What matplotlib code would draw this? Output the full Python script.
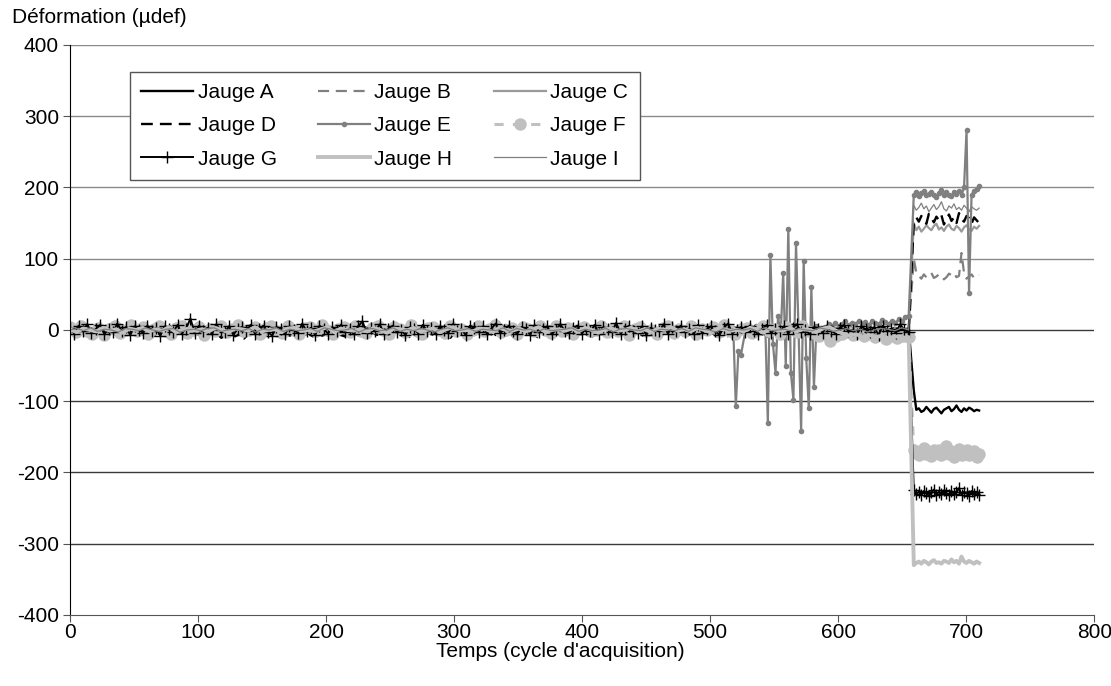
import numpy as np
import matplotlib; matplotlib.use('Agg')
import matplotlib.pyplot as plt

plt.rcParams.update({'font.family': ['Liberation Sans', 'DejaVu Sans'], 'font.size': 15,
                     'axes.unicode_minus': False})

# --- baseline (cycles 0..655) ---
A_base = [2,-4,1,5,-3,0,4,-5,2,-1,3,-4,5,0,-2,4,-5,1,3,-3,0,5,-2,1,-4,3,0,-5,4,-1,2,-3,5,-2,0,3,-4,1,4,-5,2,-1,0,5,-3,1,-4,3,-1,2,-5,4,0,-2,3,-4,1,5,-3,0,2,-5,4,-1,1,-3,5,0,-4,2,3,-2,-5,4,1,-1,3,-4,0,5,-2,2,-3,1,4,-5,0,3,-1,-4,2,5,-3,1,0,-2,4,-5,3,-1,2,-4,1,5,-3,0,-2,4,-1,3,-5,2,0,-3,5,1,-4,2,-1,3,-2,0,4,-5,1,3,-3,2,-1,5,-4,0,2,-2,4,-5,1,3,-1,0,-3,5,-2,2,-4,1,4,-3,0,-1,3,-5,2,5,-2,-4,1,0,3,-3,4,-1,2,-5,0,3,-2,1,4,-4,2,-1,0,3,-3,1,2]
B_base = [1,-2,0,-3,-1,-4,-2,0,-3,-5,-1,-3,-6,-2,-4,-1,-5,-3,-7,-2,-4,-6,-3,-1,-5,-8,-2,-4,-3,-6,-1,-5,-3,-7,-4,-2,-6,-3,-5,-1,-4,-7,-2,-5,-3,-6,-4,-1,-5,-3,-2,-6,-4,-3,-7,-1,-4,-2,-5,-3,-6,-2,-4,-1,-5,-3,-7,-2,-4,-3,-5,-1,-6,-3,-2,-4,-5,-1,-3,-6,-2,-4,-3,-1,-5,-2,-4,-7,-3,-1,-5,-2,-4,-3,-6,-1,-4,-2,-9,-3,-5,-1,-4,-2,-10,-3,-1,-5,-2,-4,-3,-1,-6,-2,-4,-3,-1,-5,-2,-3,-4,-1,-2,-5,-3,-1]
C_base = [3,0,-2,1,4,-1,2,-3,0,3,1,-2,2,0,-1,4,-2,1,3,-1,0,2,-3,1,4,0,-2,2,1,-1,3,0,-2,1,2,-3,0,4,-1,1,2,-2,0,3,-1,1,-2,4,0,-1,2,1,-3,0,3,-1,2,0,-2,1,4,-1,0,2,-2,1,3,0,-1,2,-3,1,0,4,-2,1,2,-1,0,3,-2,1,-1,2,0,4,-3,1,2,-1,0,3,-2,1,0,2,-1,3,-2,0,1,4,-1,2,0,-3,1,2,-1,3,0,-2,1,2,-1,0,3,-2,1,4,0,-1,2,1,-2,3,0,1]
D_base = [0,-3,-5,-1,-4,-6,-2,-1,-5,-3,-7,-2,-6,-4,-9,-3,-7,-5,-10,-4,-8,-6,-11,-5,-9,-3,-8,-12,-6,-4,-10,-7,-5,-11,-8,-3,-9,-6,-12,-4,-8,-7,-10,-5,-9,-3,-11,-6,-8,-4,-10,-7,-5,-9,-3,-8,-6,-11,-4,-7,-9,-5,-3,-8,-6,-10,-4,-7,-5,-9,-3,-6,-8,-4,-10,-5,-7,-3,-9,-6,-4,-8,-5,-11,-3,-7,-6,-9,-4,-8,-5,-3,-10,-6,-7,-4,-9,-5,-3,-8,-6,-4,-10,-7,-5,-3,-9,-6,-4,-8,-2,-7,-5,-3,-9,-4,-6,-2,-8,-5,-3,-7,-4,-6,-2,-8,-3,-5,-1,-7,-4,-6,-2,-5,-3,-8,-1,-4,-6,-2,-5,-3,-7,-1,-4,-2,-6,-3,-5,-1,-4,-2,-6,-3,-1,-5,-2,-4,0,-3,-5,-1,-4,-2,0,-3,-1,-5,-2,0,-4,-1,-3,0,-2,1,-1,0,-3,2,-1,0,1,-2]
E_base1 = [2,-1,3,0,-2,4,1,-3,2,0,5,-1,2,-2,3,1,-1,4,0,-2,3,1,-1,2,6,0,-2,3,1,-1,4,0,2,-3,1,3,-1,0,2,5,-2,1,3,-1,0,4,2,-2,1,0,3,-1,2,8,0,-2,3,1,-1,2,4,0,-2,1,3,-1,2,0,5,-2,1,3,0,-1,2,4,-2,1,0,3,-1,2,6,0,-2,3,1,-1,4,2,0,-3,1,3,-1,2,0,4,-2,1,3,0,2,-1]
E_spike_t = [518,520,522,524,528,532,536,540,543,545,547,549,551,553,555,557,559,561,563,565,567,569,571,573,575,577,579,581,583,586]
E_spike_v = [3,-107,-30,-35,4,2,6,3,8,-130,105,-20,-60,20,-10,80,-50,142,-60,-98,122,0,-142,97,-40,-110,60,-80,5,3]
E_base2 = [4,8,5,10,6,9,12,7,10,8,13,9,11,7,12,10,8,14,11,9,13,10,15,12,18,20]
F_base = [4,-3,6,-1,-5,3,-7,2,5,-4,0,7,-2,4,-6,1,5,-2,-5,3,6,-4,0,4,-7,2,-1,5,-3,1,7,-2,0,4,-5,3,6,-1,-4,5,0,-6,3,4,-2,7,0,-5,2,4,-3,6,-1,-4,3,5,0,-6,4,1,-3,7,-1,-5,3,4,0,-4,6,-1,2,-5,0,5,-2,1,7,-3,0,3,-6,4,1,-2,5,0,-4,6,-1,3,-5,1,4,-2,0,6,-3,2,-1,5,-7,1,4,-2,0,-5,3,6,-4,1,-2,5,-6,2,0,4,-3,7,-1,-5,2,3,-4,0,6,-2,1,-6,4,2,-3,5,-1,-4,-8,-6,-15,-9,-5,-3,-7,-4,-8,-5,-10,-6,-12,-9,-11,-8,-10]
G_base = [3,-5,6,-2,8,-4,1,7,-6,2,-3,9,-1,4,-7,5,0,-4,6,-2,3,-8,5,1,-3,7,-5,2,16,-4,6,-1,3,-6,8,0,-3,5,-7,2,4,-2,7,-5,1,6,-3,-8,4,2,-6,5,0,-4,9,-2,3,-7,6,1,-5,4,-1,7,-3,2,-6,5,12,-4,3,-2,8,-5,1,6,-3,0,-7,4,2,-5,7,-1,3,-6,5,0,-4,8,-2,1,-7,6,3,-3,5,-6,2,9,-4,0,6,-2,-5,4,1,-7,7,-3,2,5,-6,0,8,-1,-4,3,6,-5,2,-2,7,-6,4,1,-3,10,-5,2,6,-1,-4,5,-7,3,0,-2,8,-5,4,-1,6,-3,2,-6,7,-4,1,5,-2,-7,3,9,-5,0,4,-3,6,-1,-6,2,7,-4,1,-2,5,-5,3,8,-3,0,-6,4,2,-4,6,-1,-5,3,7,-2,0,-6,5,1,-3,4,-7,6,-1,2,-4,8,0,-3]
H_base = [1,-3,2,0,-2,3,-1,1,-4,2,0,3,-2,1,-1,4,-3,0,2,-1,1,-2,3,0,-3,2,1,-1,4,-2,0,1,-3,2,3,-1,0,-2,1,4,-3,2,0,-1,1,-2,3,0,-4,2,1,-1,3,-2,0,2,-3,1,4,-1,0,-2,2,1,-3,3,0,-1,2,-2,1,4,-3,0,1,-1,2,-2,3,0,-4,1,2,-1,0,3,-2,1,-3,2,0,4,-1,1,-2,3,0,-3,2,1,-1,0,-2,3,1,-4,2,0,-1,3,-2,1,0,-3,2,4,-1,-5,-8,-6,-9,-7,-10,-8,-12,-9,-11,-10]
I_base = [0,2,-1,3,-2,1,0,-3,2,1,-1,3,0,-2,1,2,-3,0,1,-1,2,3,-2,0,1,-1,2,-3,1,0,3,-2,1,-1,0,2,-2,3,1,-1,0,2,-3,1,2,-1,0,3,-2,1,-1,2,0,-3,1,3,-1,0,2,-2,1,0,-1,3,-2,2,0,1,-3,2,-1,0,1,3,-2,1,-1,0,2,-3,1,2,0,-1,3,-2,1,0,-1,2,-2,3,1,0,-3,2,-1,1,0,2,-2,3,-1,0,1,-2,2,0,-1,3,1,-2,0,2,-1,1,-3,0,2,1,-1,3,0]

# --- after the load step (cycles 659..710) ---
A_step = [-85,-112,-110,-115,-113,-108,-112,-116,-111,-109,-113,-117,-112,-110,-108,-114,-111,-106,-112,-115,-110,-113,-109,-111,-114,-112,-113]
B_step = [100,80,76,72,78,74,77,80,73,75,78,76,71,74,79,77,80,74,76,108,80,72,75,78,73,74,77]
C_step = [150,140,145,138,142,147,143,140,146,149,141,144,139,145,148,142,140,146,143,138,144,147,141,139,145,142,146]
D_step = [150,158,152,160,155,149,163,157,151,159,154,161,148,156,162,153,158,150,164,155,152,160,157,149,158,154,150]
E_step = [190,193,188,192,195,189,191,194,190,187,192,196,189,193,190,188,194,191,195,189,200,280,52,190,195,198,202]
F_step = [-168,-172,-175,-170,-165,-174,-171,-177,-169,-173,-168,-176,-171,-163,-174,-170,-178,-172,-167,-175,-171,-169,-176,-173,-170,-178,-174]
G_step = [-225,-230,-227,-232,-226,-229,-233,-228,-224,-231,-227,-230,-225,-229,-232,-226,-230,-228,-222,-231,-227,-229,-233,-226,-230,-228,-231]
H_step = [-330,-327,-325,-328,-324,-326,-329,-325,-323,-327,-326,-328,-324,-325,-327,-322,-326,-324,-328,-318,-325,-327,-324,-326,-328,-325,-327]
I_step = [175,168,172,178,170,174,166,171,176,169,173,180,170,167,174,171,177,169,172,168,175,171,166,173,170,168,171]


def series(base, step):
    t = np.concatenate([np.linspace(0, 655, len(base)), np.linspace(659, 710, len(step))])
    return t, np.concatenate([base, step])


tE = np.concatenate([np.linspace(0, 515, len(E_base1)), E_spike_t,
                     np.linspace(590, 655, len(E_base2)), np.linspace(659, 710, len(E_step))])
vE = np.concatenate([E_base1, E_spike_v, E_base2, E_step])

fig = plt.figure(figsize=(11.11, 6.86), dpi=100)
ax = fig.add_axes([0.063, 0.1035, 0.922, 0.831])

for v in range(-300, 401, 100):
    ax.axhline(v, color='#8a8a8a' if v > 0 else '#3a3a3a', lw=1.0, zorder=0)

h = {}
h['A'], = ax.plot(*series(A_base, A_step), color='black', lw=1.7)
h['B'], = ax.plot(*series(B_base, B_step), color='#808080', lw=1.6, ls=(0, (5, 3)))
h['C'], = ax.plot(*series(C_base, C_step), color='#9a9a9a', lw=1.6)
h['D'], = ax.plot(*series(D_base, D_step), color='black', lw=1.7, ls=(0, (5, 3)))
h['E'], = ax.plot(tE, vE, color='#808080', lw=1.6, marker='o', ms=3)
h['F'], = ax.plot(*series(F_base, F_step), color='#c0c0c0', lw=2.2, ls=(0, (3, 3)),
                  marker='o', ms=9, markeredgewidth=0)
h['G'], = ax.plot(*series(G_base, G_step), color='black', lw=1.4, marker='+', ms=9, markeredgewidth=1)
h['H'], = ax.plot(*series(H_base, H_step), color='#c0c0c0', lw=2.8)
h['I'], = ax.plot(*series(I_base, I_step), color='#808080', lw=0.9)

ax.set_xlim(0, 800)
ax.set_ylim(-400, 400)
ax.set_xticks(range(0, 801, 100))
ax.set_yticks(range(-400, 401, 100))
for s in ['top', 'right']:
    ax.spines[s].set_visible(False)
ax.spines['left'].set_color('black')
ax.spines['bottom'].set_color('#555555')
ax.tick_params(axis='y', direction='out', length=5, color='#555555', labelsize=15, pad=3)
ax.tick_params(axis='x', direction='out', length=5, color='#555555', labelsize=15, pad=1)

order = ['A', 'D', 'G', 'B', 'E', 'H', 'C', 'F', 'I']
leg = ax.legend([h[k] for k in order], ['Jauge ' + k for k in order], ncol=3,
                loc='upper left', bbox_to_anchor=(0.0584, 0.953), borderaxespad=0,
                fontsize=15, frameon=True, fancybox=False, edgecolor='#555555', framealpha=1,
                handlelength=2.5, handletextpad=0.2, columnspacing=2.0,
                labelspacing=0.68, borderpad=0.55)
leg.get_frame().set_linewidth(1.0)

fig.text(0.011, 0.975, 'Déformation (µdef)', fontsize=15, va='center', ha='left')
fig.text(0.504, 0.051, "Temps (cycle d'acquisition)", fontsize=15, va='center', ha='center')

plt.savefig('out.png', dpi=100, facecolor='white')
